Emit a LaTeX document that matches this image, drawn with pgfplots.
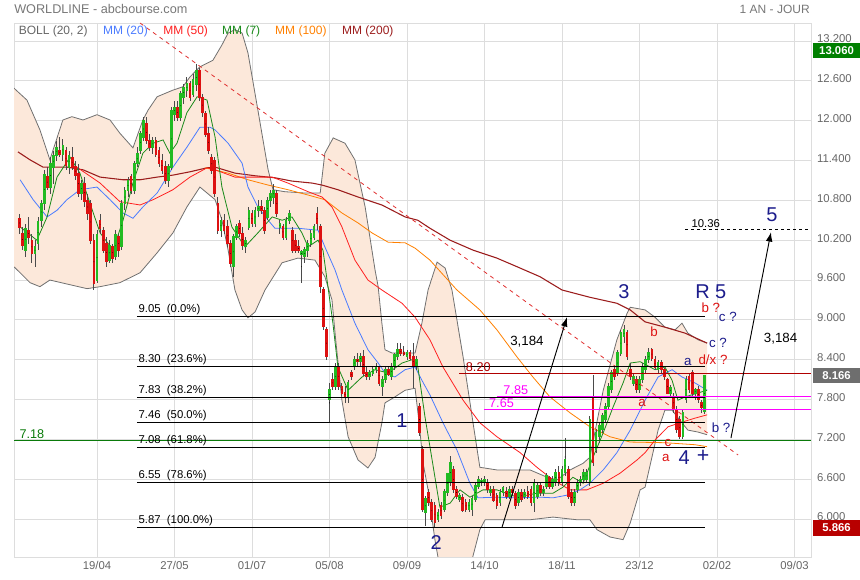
\documentclass[border=0pt]{standalone}
\usepackage{fontspec}
\setmainfont{Liberation Sans}
\usepackage{pgfplots}
\usepackage{pgfplotstable}
\pgfplotsset{compat=1.18}
\usepgfplotslibrary{fillbetween}
\usetikzlibrary{arrows.meta}
\definecolor{gridc}{HTML}{DDDDDD}
\definecolor{labc}{HTML}{666666}
\definecolor{titlec}{HTML}{777777}
\definecolor{bbfill}{HTML}{FCE8DA}
\definecolor{bbline}{HTML}{707070}
\definecolor{mmA}{HTML}{4A7BFF}
\definecolor{mmB}{HTML}{FF2020}
\definecolor{mmC}{HTML}{1A8A1A}
\definecolor{mmD}{HTML}{FF8000}
\definecolor{mmE}{HTML}{9B1C1C}
\definecolor{upc}{HTML}{22BB22}
\definecolor{dnc}{HTML}{DD1111}
\definecolor{wickc}{HTML}{4A4A4A}
\definecolor{navyc}{HTML}{1C1C8C}
\definecolor{magc}{HTML}{FF00FF}
\definecolor{drc}{HTML}{B00000}
\definecolor{grl}{HTML}{0A7A0A}
\definecolor{trend}{HTML}{E03030}
\definecolor{tagG}{HTML}{008000}
\definecolor{tagS}{HTML}{6E6E6E}
\definecolor{tagR}{HTML}{B80000}
\newcommand{\fs}[1]{\fontsize{#1}{#1}\selectfont}
\pgfplotsset{candle/.style={only marks, mark=*, mark size=0.01pt, mark options={draw=none, fill=none},
  error bars/.cd, y dir=both, y explicit, error mark=none}}
\pgfplotstableread{
i o h l c
0 10.52 10.60 10.30 10.40
1 10.30 10.40 10.05 10.12
2 10.05 10.45 9.95 10.38
3 10.35 10.55 10.15 10.25
4 10.20 10.30 9.85 10.00
5 10.00 10.20 9.80 10.10
6 10.15 10.55 10.05 10.48
7 10.50 10.80 10.40 10.75
8 10.75 11.25 10.65 11.18
9 11.15 11.30 10.95 11.00
10 11.00 11.45 10.90 11.35
11 11.30 11.55 11.05 11.48
12 11.48 11.70 11.40 11.60
13 11.55 11.75 11.45 11.50
14 11.50 11.72 11.40 11.62
15 11.55 11.60 11.25 11.32
16 11.30 11.55 11.20 11.48
17 11.45 11.60 11.25 11.30
18 11.30 11.40 11.10 11.18
19 11.20 11.35 10.85 10.90
20 10.90 11.10 10.80 11.05
21 11.05 11.15 10.70 10.78
22 10.80 10.90 10.50 10.60
23 10.75 10.80 10.15 10.20
24 10.20 10.30 9.45 9.55
25 9.60 10.35 9.55 10.28
26 10.50 10.60 10.30 10.38
27 10.35 10.40 10.00 10.05
28 10.15 10.25 9.80 9.88
29 9.90 10.20 9.85 10.12
30 10.10 10.15 9.85 9.92
31 9.95 10.35 9.90 10.28
32 10.25 10.30 9.95 10.05
33 10.10 10.80 10.05 10.75
34 10.75 11.00 10.65 10.95
35 10.95 11.15 10.85 11.10
36 11.15 11.20 10.90 10.95
37 10.95 11.40 10.90 11.35
38 11.35 11.60 11.30 11.50
39 11.55 11.85 11.50 11.80
40 11.75 12.05 11.70 12.00
41 11.95 12.05 11.65 11.70
42 11.70 11.80 11.55 11.60
43 11.60 11.75 11.50 11.70
44 11.70 11.75 11.45 11.50
45 11.55 11.60 11.30 11.35
46 11.40 11.50 11.20 11.25
47 11.30 11.40 11.05 11.10
48 11.10 11.35 11.00 11.30
49 11.30 12.20 11.25 12.15
50 12.10 12.30 12.00 12.20
51 12.20 12.30 12.00 12.05
52 12.05 12.45 12.00 12.40
53 12.35 12.55 12.25 12.50
54 12.45 12.65 12.35 12.55
55 12.55 12.60 12.30 12.35
56 12.40 12.70 12.35 12.62
57 12.55 12.85 12.45 12.75
58 12.75 12.80 12.30 12.35
59 12.35 12.40 12.05 12.12
60 12.10 12.15 11.75 11.80
61 11.80 11.90 11.50 11.55
62 11.45 11.50 11.20 11.25
63 11.40 11.45 10.85 10.90
64 10.75 10.85 10.30 10.35
65 10.35 10.55 10.25 10.50
66 10.50 10.60 10.30 10.35
67 10.40 10.50 10.10 10.15
68 10.15 10.20 9.80 9.85
69 9.80 10.30 9.65 10.25
70 10.25 10.45 10.20 10.40
71 10.45 10.50 10.25 10.30
72 10.30 10.40 10.05 10.12
73 10.10 10.25 10.00 10.20
74 10.40 10.70 10.35 10.65
75 10.60 10.65 10.40 10.45
76 10.45 10.70 10.40 10.65
77 10.65 10.80 10.55 10.70
78 10.70 10.80 10.60 10.65
79 10.65 10.70 10.30 10.35
80 10.55 10.85 10.50 10.80
81 10.80 10.95 10.70 10.90
82 10.85 11.05 10.75 10.95
83 10.90 10.95 10.55 10.60
84 10.40 10.50 10.30 10.45
85 10.40 10.45 10.20 10.25
86 10.25 10.55 10.20 10.50
87 10.50 10.65 10.45 10.60
88 10.35 10.40 10.00 10.05
89 10.20 10.30 10.00 10.05
90 10.10 10.20 10.00 10.05
91 9.98 10.05 9.55 10.02
92 9.95 10.10 9.85 10.05
93 10.05 10.20 9.95 10.15
94 10.15 10.35 10.10 10.30
95 10.25 10.45 10.20 10.40
96 10.60 10.70 10.35 10.45
97 10.40 10.45 9.40 9.50
98 9.45 9.50 8.85 8.90
99 8.85 8.90 8.40 8.45
100 7.80 8.05 7.45 7.95
101 8.10 8.20 7.95 8.00
102 8.00 8.35 7.95 8.30
103 8.30 8.35 7.95 8.00
104 8.00 8.05 7.85 7.90
105 7.90 8.00 7.75 7.85
106 7.85 8.10 7.75 8.05
107 8.20 8.25 8.10 8.15
108 8.30 8.45 8.25 8.40
109 8.40 8.50 8.30 8.38
110 8.38 8.50 8.30 8.45
111 8.45 8.55 8.15 8.20
112 8.20 8.30 8.10 8.15
113 8.15 8.25 8.10 8.20
114 8.20 8.30 8.15 8.25
115 8.25 8.35 8.20 8.28
116 8.28 8.30 8.00 8.05
117 8.00 8.15 7.85 8.10
118 8.10 8.30 8.05 8.25
119 8.25 8.30 8.15 8.18
120 8.15 8.35 8.10 8.30
121 8.30 8.50 8.25 8.48
122 8.45 8.65 8.40 8.55
123 8.55 8.65 8.45 8.50
124 8.50 8.60 8.45 8.48
125 8.45 8.55 8.40 8.50
126 8.50 8.55 8.40 8.42
127 8.45 8.65 7.98 8.30
128 8.30 8.45 8.25 8.40
129 7.70 7.75 7.25 7.30
130 7.05 7.10 6.10 6.15
131 6.10 6.35 5.90 6.30
132 6.40 6.45 6.20 6.25
133 6.25 6.30 5.95 6.00
134 6.20 6.25 5.87 5.95
135 6.00 6.15 5.95 6.10
136 6.20 6.25 6.00 6.05
137 6.15 6.45 6.10 6.42
138 6.40 6.70 6.35 6.68
139 6.55 6.95 6.50 6.85
140 6.75 6.80 6.40 6.45
141 6.45 6.50 6.30 6.35
142 6.30 6.40 6.25 6.35
143 6.33 6.38 6.10 6.13
144 6.25 6.30 6.10 6.15
145 6.15 6.30 6.10 6.25
146 6.15 6.35 6.05 6.30
147 6.30 6.55 6.25 6.50
148 6.50 6.65 6.45 6.60
149 6.55 6.62 6.50 6.58
150 6.55 6.65 6.50 6.60
151 6.55 6.60 6.40 6.45
152 6.40 6.50 6.35 6.45
153 6.45 6.50 6.25 6.28
154 6.35 6.40 6.15 6.20
155 6.25 6.45 6.20 6.40
156 6.40 6.50 6.35 6.48
157 6.42 6.48 6.30 6.35
158 6.35 6.50 6.30 6.45
159 6.45 6.50 6.35 6.40
160 6.38 6.42 6.15 6.20
161 6.25 6.45 6.20 6.40
162 6.40 6.45 6.25 6.30
163 6.35 6.45 6.30 6.40
164 6.42 6.50 6.30 6.35
165 6.45 6.50 6.20 6.25
166 6.25 6.60 6.10 6.55
167 6.35 6.55 6.30 6.50
168 6.50 6.55 6.35 6.40
169 6.40 6.50 6.35 6.45
170 6.50 6.70 6.45 6.65
171 6.62 6.65 6.45 6.50
172 6.50 6.65 6.45 6.60
173 6.55 6.75 6.50 6.70
174 6.70 6.80 6.50 6.55
175 6.55 6.80 6.50 6.75
176 6.70 7.22 6.65 6.90
177 6.75 6.80 6.30 6.35
178 6.40 6.45 6.20 6.25
179 6.25 6.45 6.20 6.40
180 6.45 6.60 6.40 6.55
181 6.55 6.65 6.50 6.60
182 6.60 6.75 6.55 6.70
183 6.60 6.75 6.55 6.70
184 6.55 7.55 6.50 7.50
185 7.85 8.17 6.80 6.85
186 7.05 7.35 7.00 7.30
187 7.25 7.45 7.15 7.40
188 7.35 7.60 7.30 7.55
189 7.50 7.75 7.45 7.70
190 7.70 8.05 7.65 8.00
191 7.95 8.25 7.90 8.20
192 8.25 8.30 8.10 8.15
193 8.20 8.55 8.15 8.50
194 8.50 8.85 8.45 8.80
195 8.75 8.92 8.65 8.85
196 8.80 8.85 8.40 8.45
197 8.25 8.35 8.10 8.15
198 8.05 8.20 8.00 8.15
199 8.10 8.15 7.90 7.95
200 7.95 8.15 7.90 8.10
201 8.10 8.35 8.05 8.30
202 8.25 8.45 8.20 8.40
203 8.40 8.58 8.35 8.50
204 8.55 8.58 8.38 8.42
205 8.40 8.45 8.25 8.28
206 8.25 8.40 8.20 8.35
207 8.35 8.40 8.20 8.25
208 8.25 8.28 8.10 8.15
209 8.10 8.12 7.88 7.90
210 7.90 8.02 7.85 7.98
211 7.85 7.90 7.60 7.65
212 7.65 7.70 7.30 7.35
213 7.50 7.55 7.20 7.25
214 7.25 7.65 7.20 7.60
215 7.80 8.15 7.75 8.10
216 8.15 8.20 7.90 7.95
217 8.20 8.25 7.85 7.90
218 7.90 7.98 7.80 7.95
219 7.95 8.00 7.75 7.80
220 7.75 7.80 7.60 7.68
221 7.62 8.17 7.58 8.166
}\candles
\begin{document}
\begin{tikzpicture}
\begin{axis}[
  at={(10.5pt,17.25pt)}, anchor=south west,
  scale only axis, width=597.75pt, height=400.5pt,
  xmin=-1.77, xmax=255.32, ymin=5.429, ymax=13.471,
  set layers, clip mode=individual,
  axis line style={draw=gridc, line width=0.6pt},
  grid=major, major grid style={draw=gridc, line width=0.6pt},
  xtick={25,50,75,100,125,150,175,200,225,250},
  xticklabels={19/04,27/05,01/07,05/08,09/09,14/10,18/11,23/12,02/02,09/03},
  ytick={6,6.6,7.2,7.8,8.4,9,9.6,10.2,10.8,11.4,12,12.6,13.2},
  yticklabel pos=right,
  scaled y ticks=false,
  /pgf/number format/assume math mode=true,
  yticklabel style={/pgf/number format/fixed, /pgf/number format/fixed zerofill, /pgf/number format/precision=3, xshift=1pt, yshift=1.5pt},
  tick style={draw=none},
  tick label style={font=\fs{8.5}, text=labc},
]
% Bollinger
\addplot[name path=bbU, draw=bbline, line width=0.6pt] coordinates {
(-1.8,12.49) (2.4,12.31) (6.6,11.86) (9.8,11.41) (14,12.01) (16.9,12.06) (20.5,12.01) (25,12.09) (29.2,12.01) (32.4,11.81) (36.6,11.59) (39.8,12.01) (41.5,12.16) (44.4,12.36) (49.5,12.46) (52.7,12.51) (55,12.66) (58.2,12.81) (62.4,12.91) (65.3,13.14) (67.3,13.32) (69.5,13.37) (71.8,13.32) (73.7,13.02) (76.9,12.16) (80.2,11.26) (81.8,10.96) (85.6,10.93) (92.1,10.91) (97,10.91) (98.5,11.51) (101.2,11.74) (105,11.66) (108.2,11.41) (111.5,10.70) (114.7,9.75) (115.7,9.50) (116.9,8.95) (117.9,8.55) (120.2,8.50) (127.6,8.50) (129.8,8.95) (131.8,9.45) (134.7,9.87) (137.3,9.78) (139.5,9.45) (143.1,8.44) (146.3,7.45) (148.5,6.78) (154,6.74) (164.7,6.74) (170.2,6.63) (173.4,6.59) (177.6,6.74) (181.8,6.84) (184,6.93) (188.3,7.94) (192.7,8.70) (196,9.10) (197,9.19) (201.8,9.15) (205,9.04) (208.2,8.89) (211.5,8.85) (213.7,8.95) (215.6,8.80) (218.9,8.70) (221.8,8.65)};
\addplot[name path=bbL, draw=bbline, line width=0.6pt] coordinates {
(-1.8,9.80) (0.2,9.71) (3.4,9.56) (6.6,9.50) (9.8,9.60) (15.3,9.54) (21.8,9.47) (26,9.50) (32.4,9.56) (38.9,9.71) (44.4,10.01) (49.5,10.31) (54,10.70) (58.2,11.00) (63.1,10.81) (65.3,10.50) (67.3,10.05) (69.5,9.45) (71.8,9.15) (73.7,9.03) (76,9.12) (79.2,9.45) (84.7,9.86) (89.8,9.93) (95.3,9.90) (98.5,9.65) (100.8,9.30) (102,8.70) (104,7.79) (106,7.24) (109.2,6.89) (112.4,6.77) (114.7,6.93) (116.9,7.45) (117.9,7.75) (121.1,7.84) (124.4,7.94) (127.6,7.97) (128.9,7.45) (130.2,6.84) (131.8,6.44) (134,5.69) (136.3,5.08) (140.5,4.78) (144.7,5.16) (148.5,5.84) (150.2,5.99) (154,5.99) (164.7,5.99) (172.1,6.03) (179.8,5.99) (184,5.99) (186.3,5.84) (190.5,5.73) (194.7,5.69) (197,5.94) (200.2,6.44) (201.8,6.48) (204,6.93) (206,7.34) (208.2,7.64) (210.5,7.64) (213,7.49) (215.6,7.34) (218.9,7.31) (221.8,7.27)};
\addplot[fill=bbfill, draw=none] fill between[of=bbU and bbL];
% MM200
\addplot[mmE, line width=0.8pt] coordinates {
(-0.5,11.53) (3.4,11.41) (7.6,11.30) (15.3,11.30) (20.5,11.26) (26,11.15) (33.4,11.11) (38.9,11.11) (44.4,11.15) (49.5,11.18) (55,11.23) (60.5,11.29) (63.1,11.30) (69.5,11.21) (76,11.17) (82.4,11.14) (87.9,11.09) (94.4,11.06) (97.6,11.03) (102.7,10.96) (109.2,10.85) (116.9,10.73) (124.4,10.55) (128.5,10.50) (132.4,10.38) (138.9,10.20) (146.3,10.05) (154,9.93) (160.5,9.80) (167.9,9.65) (175,9.45) (184,9.34) (192.7,9.25) (197,9.15) (201.8,8.97) (208.2,8.89) (214.7,8.80) (221.8,8.65)};
% MM100
\addplot[mmD, line width=0.6pt] coordinates {
(59.8,11.29) (67.3,11.21) (73.7,11.11) (80.2,11.03) (86.6,10.96) (93.1,10.88) (98.5,10.81) (104,10.61) (109.2,10.46) (113.7,10.31) (118.9,10.17) (124.4,10.16) (127.6,10.08) (132.4,9.90) (141.1,9.45) (148.5,9.15) (154,8.85) (160.5,8.44) (165.6,8.14) (171.1,7.84) (177.6,7.60) (184,7.39) (190.5,7.24) (197,7.16) (208.2,7.15) (217.9,7.12) (221.8,7.09)};
% MM50
\addplot[mmB, line width=0.6pt] coordinates {
(18.5,11.30) (26,11.06) (32.4,10.78) (38.9,10.73) (43.1,10.81) (49.5,10.96) (55,11.15) (60.5,11.29) (63.1,11.26) (69.5,11.15) (76,11.15) (81.5,11.15) (86.6,11.06) (93.1,10.93) (97.6,10.85) (100.8,10.70) (104,10.40) (108.2,9.90) (112.4,9.60) (116.9,9.45) (123.4,9.25) (127.6,9.04) (132.4,8.70) (136.6,8.29) (143.1,7.79) (148.5,7.45) (154,7.24) (161.5,7.00) (166.9,6.78) (172.1,6.59) (177.6,6.44) (183,6.44) (188.3,6.54) (193.7,6.69) (199.2,6.89) (201.8,7.00) (205,7.19) (209.2,7.39) (213.7,7.46) (217.9,7.52) (221.8,7.57)};
% MM20
\addplot[mmA, line width=0.6pt] coordinates {
(0.2,11.11) (4.4,10.81) (8.9,10.55) (12.1,10.65) (15.3,10.81) (19.5,10.96) (25,11.00) (29.2,10.81) (33.4,10.61) (36.6,10.53) (39.8,10.70) (44.4,10.91) (49.5,11.30) (54,11.60) (58.2,11.90) (61.5,11.90) (63.1,11.86) (67.3,11.66) (71.8,11.36) (73.7,11.00) (76.9,10.70) (80.2,10.50) (82.4,10.38) (89.8,10.38) (96.3,10.35) (98.5,10.10) (101.8,9.75) (104,9.45) (108.2,8.95) (112.4,8.55) (115.7,8.35) (117.9,8.20) (121.1,8.14) (124.4,8.25) (127.6,8.29) (129.8,8.09) (132.4,7.87) (136.6,7.45) (141.1,7.04) (145.3,6.54) (147.9,6.32) (154,6.33) (160.5,6.32) (167.9,6.33) (172.1,6.32) (176.6,6.36) (180.8,6.44) (184,6.54) (188.3,6.74) (192.7,7.00) (197,7.34) (200.2,7.64) (201.8,7.79) (206,8.14) (210.5,8.25) (213.7,8.14) (217.9,8.05) (221.8,7.94)};
% MM7
\addplot[mmC, line width=0.6pt] coordinates {
(0.2,10.40) (5.6,10.20) (8.9,10.55) (12.1,11.15) (16.3,11.45) (19.5,11.21) (22.7,10.76) (26,10.31) (30.2,10.05) (33.4,10.50) (36.6,11.06) (39.8,11.51) (43.1,11.66) (46.3,11.71) (48.5,11.51) (50.8,11.66) (54,12.12) (57.3,12.36) (60.5,12.31) (63.1,11.75) (65.3,11.00) (68.5,10.40) (72.7,10.10) (76.9,10.31) (81.5,10.55) (84.7,10.50) (87.9,10.55) (91.1,10.31) (93.1,10.10) (96.3,10.20) (97.9,10.05) (99.5,9.50) (101.1,8.95) (102.7,8.29) (106,7.94) (110.5,8.14) (114.7,8.25) (118.9,8.20) (123.4,8.35) (126.6,8.40) (128.5,8.29) (130.8,7.54) (132.4,7.09) (135.6,6.18) (138.9,6.24) (142.1,6.44) (145.3,6.33) (149.5,6.44) (154,6.44) (160.5,6.33) (166.9,6.39) (172.1,6.39) (175.3,6.48) (178.5,6.63) (181.8,6.54) (185,6.93) (188.3,7.30) (191.5,7.69) (194.7,8.05) (197,8.35) (200.2,8.37) (205,8.25) (208.2,8.29) (210.5,8.09) (212.4,7.79) (214.7,7.84) (218.9,7.90) (221.8,7.94)};
% candles: wicks then bodies
\addplot[candle, error bar style={draw=wickc, line width=0.65pt}]
  table[x=i, y expr={(\thisrow{h}+\thisrow{l})/2}, y error expr={(\thisrow{h}-\thisrow{l})/2}] {\candles};
\addplot[candle, error bar style={draw=upc, line width=2pt}]
  table[x=i, y expr={\thisrow{c}>=\thisrow{o} ? (\thisrow{o}+\thisrow{c})/2 : nan}, y error expr={abs(\thisrow{c}-\thisrow{o})/2+0.01}] {\candles};
\addplot[candle, error bar style={draw=dnc, line width=2pt}]
  table[x=i, y expr={\thisrow{c}<\thisrow{o} ? (\thisrow{o}+\thisrow{c})/2 : nan}, y error expr={abs(\thisrow{c}-\thisrow{o})/2+0.01}] {\candles};
% trendline
\addplot[trend, line width=0.6pt, dash pattern=on 3pt off 3pt] coordinates {(38.9,13.47) (231.8,6.965)};
% fibonacci levels
\addplot[black, line width=0.6pt] coordinates {(37.9,9.05) (221.1,9.05)};
\addplot[black, line width=0.6pt] coordinates {(37.9,8.30) (221.1,8.30)};
\addplot[black, line width=0.6pt] coordinates {(37.9,7.83) (221.1,7.83)};
\addplot[black, line width=0.6pt] coordinates {(37.9,7.46) (221.1,7.46)};
\addplot[black, line width=0.6pt] coordinates {(37.9,7.08) (221.1,7.08)};
\addplot[black, line width=0.6pt] coordinates {(37.9,6.55) (221.1,6.55)};
\addplot[black, line width=0.6pt] coordinates {(37.9,5.87) (221.1,5.87)};
% other levels
\addplot[grl, line width=0.7pt] coordinates {(-1.77,7.18) (255.32,7.18)};
\addplot[drc, line width=0.7pt] coordinates {(141.8,8.20) (255.32,8.20)};
\addplot[magc, line width=0.8pt] coordinates {(154,7.85) (255.32,7.85)};
\addplot[magc, line width=0.7pt] coordinates {(149.8,7.65) (255.32,7.65)};
\addplot[black, line width=0.6pt, dash pattern=on 2.5pt off 2pt] coordinates {(214.7,10.36) (255.32,10.36)};
% arrows
\addplot[black, line width=0.7pt, -{Latex[length=7pt,width=5pt]}] coordinates {(155.6,5.87) (176.6,9.04)};
\addplot[black, line width=0.7pt, -{Latex[length=7pt,width=5pt]}] coordinates {(229.5,7.22) (242.4,10.32)};
% labels
\node[anchor=south west, inner sep=1pt, font=\fs{8.5}] at (axis cs:37.9,9.05) {9.05~~(0.0\%)};
\node[anchor=south west, inner sep=1pt, font=\fs{8.5}] at (axis cs:37.9,8.30) {8.30~~(23.6\%)};
\node[anchor=south west, inner sep=1pt, font=\fs{8.5}] at (axis cs:37.9,7.83) {7.83~~(38.2\%)};
\node[anchor=south west, inner sep=1pt, font=\fs{8.5}] at (axis cs:37.9,7.46) {7.46~~(50.0\%)};
\node[anchor=south west, inner sep=1pt, font=\fs{8.5}] at (axis cs:37.9,7.08) {7.08~~(61.8\%)};
\node[anchor=south west, inner sep=1pt, font=\fs{8.5}] at (axis cs:37.9,6.55) {6.55~~(78.6\%)};
\node[anchor=south west, inner sep=1pt, font=\fs{8.5}] at (axis cs:37.9,5.87) {5.87~~(100.0\%)};
\node[anchor=south west, inner sep=1pt, text=grl, font=\fs{9.5}] at (axis cs:-0.5,7.18) {7.18};
\node[anchor=south west, inner sep=1pt, text=drc, font=\fs{9.5}] at (axis cs:143.5,8.20) {8.20};
\node[anchor=south west, inner sep=1pt, text=magc, font=\fs{9.5}] at (axis cs:155.6,7.85) {7.85};
\node[anchor=south west, inner sep=1pt, text=magc, font=\fs{9.5}] at (axis cs:151,7.65) {7.65};
\node[anchor=south west, inner sep=1pt, font=\fs{8.5}] at (axis cs:216.3,10.36) {10.36};
\node[inner sep=0pt, font=\fs{10}] at (axis cs:163.7,8.67) {3,184};
\node[inner sep=0pt, font=\fs{10}] at (axis cs:245.5,8.71) {3,184};
% wave counts
\node[inner sep=0pt, text=navyc, font=\fs{15}] at (axis cs:242.7,10.58) {5};
\node[inner sep=0pt, text=navyc, font=\fs{15}] at (axis cs:195,9.42) {3};
\node[inner sep=0pt, text=navyc, font=\fs{15}] at (axis cs:223,9.42) {R 5};
\node[inner sep=0pt, text=navyc, font=\fs{15}] at (axis cs:123.4,7.48) {1};
\node[inner sep=0pt, text=navyc, font=\fs{15}] at (axis cs:134.4,5.64) {2};
\node[inner sep=0pt, text=navyc, font=\fs{15}] at (axis cs:214.4,6.93) {4};
\node[inner sep=0pt, text=navyc, font=\fs{16}] at (axis cs:220.5,6.95) {+};
\node[inner sep=0pt, font=\fs{10}, text=dnc] at (axis cs:223,9.19) {b ?};
\node[inner sep=0pt, font=\fs{10}, text=navyc] at (axis cs:228.5,9.04) {c ?};
\node[inner sep=0pt, font=\fs{10}, text=dnc] at (axis cs:204.7,8.82) {b};
\node[inner sep=0pt, font=\fs{10}, text=navyc] at (axis cs:225.3,8.65) {c ?};
\node[inner sep=0pt, font=\fs{10}, text=navyc] at (axis cs:215.6,8.37) {a};
\node[inner sep=0pt, font=\fs{10}, text=dnc] at (axis cs:223.7,8.40) {d/x ?};
\node[inner sep=0pt, font=\fs{10}, text=dnc] at (axis cs:200.8,7.75) {a};
\node[inner sep=0pt, font=\fs{10}, text=navyc] at (axis cs:226.3,7.37) {b ?};
\node[inner sep=0pt, font=\fs{10}, text=dnc] at (axis cs:209.2,7.15) {c};
\node[inner sep=0pt, font=\fs{10}, text=dnc] at (axis cs:208.5,6.92) {a};
% legend row
\node[anchor=west, inner sep=0pt, font=\fs{9}, text=labc] at (axis cs:-0.3,13.34) {BOLL (20, 2)};
\node[anchor=west, inner sep=0pt, font=\fs{9}, text=mmA] at (axis cs:26.9,13.34) {MM (20)};
\node[anchor=west, inner sep=0pt, font=\fs{9}, text=mmB] at (axis cs:46.3,13.34) {MM (50)};
\node[anchor=west, inner sep=0pt, font=\fs{9}, text=mmC] at (axis cs:65.3,13.34) {MM (7)};
\node[anchor=west, inner sep=0pt, font=\fs{9}, text=mmD] at (axis cs:82.4,13.34) {MM (100)};
\node[anchor=west, inner sep=0pt, font=\fs{9}, text=mmE] at (axis cs:104,13.34) {MM (200)};
\end{axis}
% price tags (right margin)
\node[anchor=west, inner sep=0pt, minimum width=35.6pt, minimum height=11.5pt, text=white, font=\bfseries\fs{8.5}, fill=tagG] at (609.4pt,397.3pt) {13.060};
\node[anchor=west, inner sep=0pt, minimum width=35.6pt, minimum height=11.5pt, text=white, font=\bfseries\fs{8.5}, fill=tagS] at (609.4pt,153.5pt) {8.166};
\node[anchor=west, inner sep=0pt, minimum width=35.6pt, minimum height=11.5pt, text=white, font=\bfseries\fs{8.5}, fill=tagR] at (609.4pt,39pt) {5.866};
\node[anchor=west, inner sep=0pt, text=titlec, font=\fs{9.5}] at (10.5pt,428.25pt) {WORLDLINE - abcbourse.com};
\node[anchor=east, inner sep=0pt, text=titlec, font=\fs{9}] at (607.5pt,428.25pt) {1 AN - JOUR};
\pgfresetboundingbox
\path[use as bounding box] (0,0) rectangle (645pt,435pt);
\end{tikzpicture}
\end{document}
